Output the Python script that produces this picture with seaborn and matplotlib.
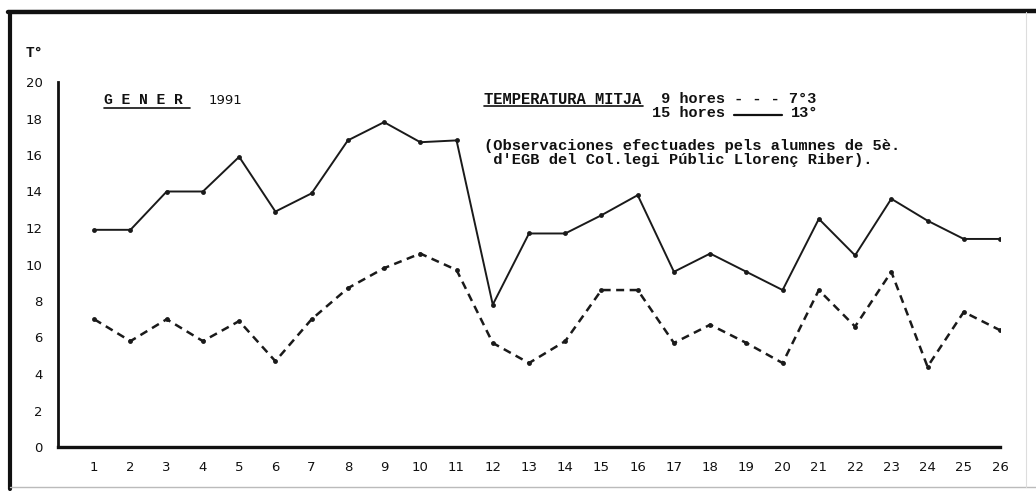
import numpy as np
import pandas as pd
import matplotlib
matplotlib.use('Agg')
import matplotlib.pyplot as plt
from matplotlib.lines import Line2D
import seaborn as sns

# Dades llegides del gràfic (gener 1991)
dies = list(range(1, 27))
hores_9 = [7.0, 5.8, 7.0, 5.8, 6.9, 4.7, 7.0, 8.7, 9.8, 10.6, 9.7, 5.7, 4.6,
           5.8, 8.6, 8.6, 5.7, 6.7, 5.7, 4.6, 8.6, 6.6, 9.6, 4.4, 7.4, 6.4]
hores_15 = [11.9, 11.9, 14.0, 14.0, 15.9, 12.9, 13.9, 16.8, 17.8, 16.7, 16.8, 7.8, 11.7,
            11.7, 12.7, 13.8, 9.6, 10.6, 9.6, 8.6, 12.5, 10.5, 13.6, 12.4, 11.4, 11.4]
y_ticks = [0, 2, 4, 6, 8, 10, 12, 14, 16, 18, 20]

df = pd.DataFrame({'dia': dies, '9 hores': hores_9, '15 hores': hores_15})

sns.set_style('white')
plt.rcParams['font.family'] = ['DejaVu Sans']

W, H = 1036, 491
fig = plt.figure(figsize=(W / 100, H / 100), dpi=100)
ax = fig.add_axes([58 / W, (H - 447) / H, (1000 - 58) / W, (447 - 82) / H])

sns.lineplot(data=df, x='dia', y='15 hores', ax=ax, color='#1a1a1a', lw=1.4,
             marker='o', markersize=3.5, markeredgewidth=0)
sns.lineplot(data=df, x='dia', y='9 hores', ax=ax, color='#1a1a1a', lw=1.8,
             linestyle=(0, (3.2, 2.2)), marker='o', markersize=3.5, markeredgewidth=0)

ax.set_xlim(0, 26)
ax.set_ylim(0, 20)
ax.set_xticks(dies)
ax.set_yticks(y_ticks)
ax.set_xlabel('')
ax.set_ylabel('')
sns.despine(ax=ax)
ax.spines['left'].set_linewidth(2.0)
ax.spines['bottom'].set_linewidth(2.4)
ax.spines['left'].set_color('#111111')
ax.spines['bottom'].set_color('#111111')
ax.tick_params(axis='x', direction='in', length=6, width=1.3, pad=10,
               labelsize=9.5, colors='#111111')
ax.tick_params(axis='y', direction='out', length=5, width=1.3, pad=6,
               labelsize=9.5, colors='#111111')
ax.patch.set_alpha(0)

# Textos a màquina d'escriure
mono = 'Liberation Mono'
fx = lambda px: px / W
fy = lambda py: 1 - py / H

fig.text(fx(26), fy(53), 'T°', family=mono, weight='bold', fontsize=10.5, va='center', color='#111111')
fig.text(fx(104), fy(100), 'G E N E R', family=mono, weight='bold', fontsize=10.5, va='center', color='#111111')
fig.text(fx(209), fy(100), '1991', fontsize=9.5, va='center', color='#111111')
fig.text(fx(484), fy(99), 'TEMPERATURA MITJA', family=mono, weight='bold', fontsize=11.2,
         va='center', color='#111111')
fig.text(fx(652), fy(99), ' 9 hores - - - 7°3', family=mono, weight='bold', fontsize=11,
         va='center', color='#111111')
fig.text(fx(652), fy(113), '15 hores', family=mono, weight='bold', fontsize=11,
         va='center', color='#111111')
fig.text(fx(791), fy(113), '13°', family=mono, weight='bold', fontsize=11,
         va='center', color='#111111')
fig.text(fx(484), fy(146), "(Observaciones efectuades pels alumnes de 5è.",
         family=mono, weight='bold', fontsize=11.1, va='center', color='#111111')
fig.text(fx(484), fy(160), " d'EGB del Col.legi Públic Llorenç Riber).",
         family=mono, weight='bold', fontsize=11.1, va='center', color='#111111')

# subratllats, línia de llegenda i marc
for x0, x1, y, lw in [(104, 190, 108, 1.2), (484, 643, 106, 1.2), (734, 782, 115, 1.6)]:
    fig.add_artist(Line2D([fx(x0), fx(x1)], [fy(y), fy(y)], lw=lw, color='#111111'))
fig.add_artist(Line2D([fx(8), fx(1036)], [fy(12), fy(11)], lw=3.2, color='#111111'))
fig.add_artist(Line2D([fx(10), fx(10)], [fy(12), fy(489)], lw=3.0, color='#111111'))
fig.add_artist(Line2D([fx(10), fx(1036)], [fy(487), fy(487)], lw=1.0, color='#bbbbbb'))
fig.add_artist(Line2D([fx(1026), fx(1026)], [fy(12), fy(487)], lw=0.8, color='#dddddd'))

fig.savefig('out.png', dpi=100)
